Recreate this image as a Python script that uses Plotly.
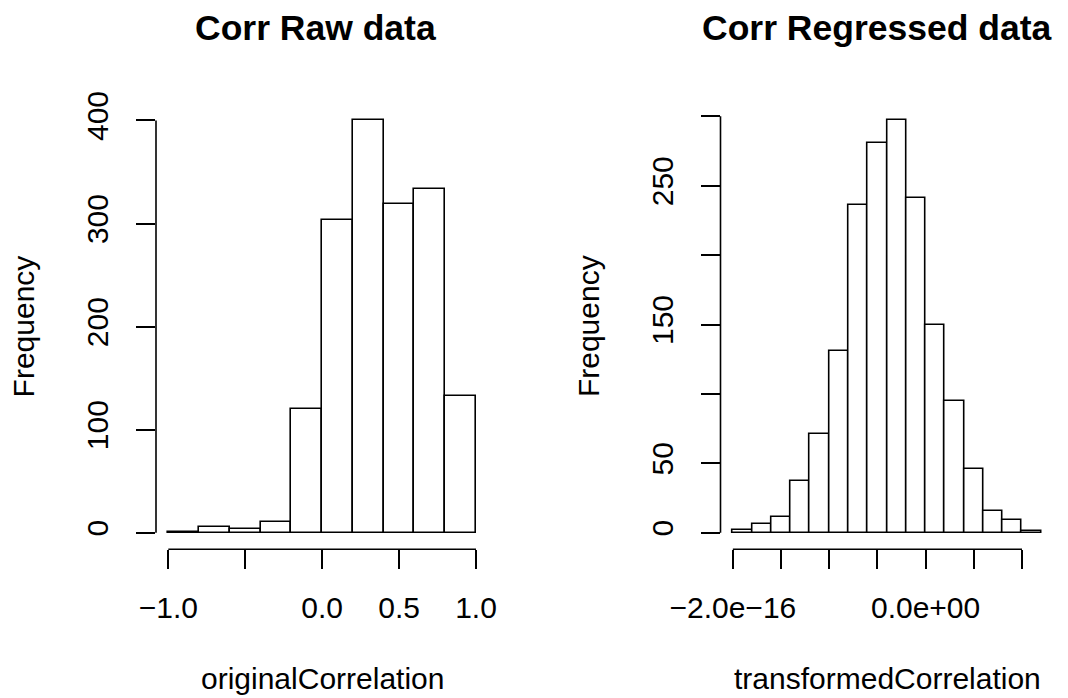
import plotly.graph_objects as go

# ---------------- data ----------------
raw_breaks = [-1.0, -0.8, -0.6, -0.4, -0.2, 0.0, 0.2, 0.4, 0.6, 0.8, 1.0]
raw_counts = [1, 6, 4, 10, 120, 303, 400, 319, 334, 133]

reg_breaks = [-2.0e-16, -1.8e-16, -1.6e-16, -1.4e-16, -1.2e-16, -1.0e-16, -0.8e-16,
              -0.6e-16, -0.4e-16, -0.2e-16, 0.0, 0.2e-16, 0.4e-16, 0.6e-16,
              0.8e-16, 1.0e-16, 1.2e-16]
reg_counts = [2, 6, 11, 37, 71, 131, 236, 281, 297, 241, 150, 95, 46, 16, 9, 1]

raw_xticks = [-1.0, -0.5, 0.0, 0.5, 1.0]
raw_xticktext = ["\u22121.0", "", "0.0", "0.5", "1.0"]
raw_yticks = [0, 100, 200, 300, 400]
raw_yticktext = ["0", "100", "200", "300", "400"]

reg_xticks = [-2.0e-16, -1.5e-16, -1.0e-16, -0.5e-16, 0.0, 0.5e-16, 1.0e-16]
reg_xticktext = ["\u22122.0e\u221216", "", "", "", "0.0e+00", "", ""]
reg_yticks = [0, 50, 100, 150, 200, 250, 300]
reg_yticktext = ["0", "50", "", "150", "", "250", ""]

titles = ["Corr Raw data", "Corr Regressed data"]
xlabels = ["originalCorrelation", "transformedCorrelation"]
ylabel = "Frequency"

# ---------------- styling ----------------
PAGE_W, PAGE_H = 1068, 698
OFF = 8  # default page body margin
W, H = PAGE_W - OFF, PAGE_H - OFF
FONT = "Liberation Sans, Arial, Helvetica, sans-serif"
FS = 30
LW = 1.6


def px_x(p):
    return (p - OFF) / W


def px_y(p):
    return 1 - (p - OFF) / H


fig = go.Figure()


def add_hist(breaks, counts, xa, ya):
    centers = [(breaks[i] + breaks[i + 1]) / 2 for i in range(len(counts))]
    widths = [breaks[i + 1] - breaks[i] for i in range(len(counts))]
    fig.add_trace(go.Bar(
        x=centers, y=counts, width=widths,
        marker=dict(color="white", line=dict(color="black", width=LW)),
        xaxis=xa, yaxis=ya, showlegend=False, hoverinfo="x+y",
    ))


add_hist(raw_breaks, raw_counts, "x", "y")
add_hist(reg_breaks, reg_counts, "x2", "y2")


def ext(lo, hi):
    d = (hi - lo) * 0.04
    return [lo - d, hi + d]


y_bottom, y_top = 549.2, 104.0
ydom = [px_y(y_bottom), px_y(y_top)]

xdom1 = [px_x(156.0), px_x(488.3)]
xdom2 = [px_x(720.5), px_x(1053.6)]

axis_common = dict(
    showgrid=False, zeroline=False, showline=False, automargin=False,
    ticks="outside", ticklen=19, tickwidth=LW, tickcolor="black",
    tickfont=dict(family=FONT, size=FS, color="black"),
    tickmode="array", fixedrange=True,
)

fig.update_layout(
    xaxis=dict(domain=xdom1, range=ext(raw_breaks[0], raw_breaks[-1]),
               tickvals=raw_xticks, ticktext=raw_xticktext, anchor="y",
               ticklabelstandoff=13, **axis_common),
    yaxis=dict(domain=ydom, range=ext(0, max(raw_counts)),
               tickvals=raw_yticks, ticktext=raw_yticktext, anchor="x",
               tickangle=-90, ticklabelstandoff=16, **axis_common),
    xaxis2=dict(domain=xdom2, range=ext(reg_breaks[0], reg_breaks[-1]),
                tickvals=reg_xticks, ticktext=reg_xticktext, anchor="y2",
                ticklabelstandoff=13, **axis_common),
    yaxis2=dict(domain=ydom, range=ext(0, max(reg_counts)),
                tickvals=reg_yticks, ticktext=reg_yticktext, anchor="x2",
                tickangle=-90, ticklabelstandoff=16, **axis_common),
)

# R-style axis lines spanning only first..last tick
shapes = []
for xr, yr, xt, yt in [("x", "y", raw_xticks, raw_yticks), ("x2", "y2", reg_xticks, reg_yticks)]:
    shapes.append(dict(type="line", xref=xr, yref=yr + " domain",
                       x0=xt[0], x1=xt[-1], y0=0, y1=0,
                       line=dict(color="black", width=LW)))
    shapes.append(dict(type="line", xref=xr + " domain", yref=yr,
                       x0=0, x1=0, y0=yt[0], y1=yt[-1],
                       line=dict(color="black", width=LW)))

annotations = []
for cx, t in zip([315, 876], titles):
    annotations.append(dict(text="<b>%s</b>" % t, x=px_x(cx), y=px_y(28.3),
                            xref="paper", yref="paper", showarrow=False,
                            xanchor="center", yanchor="middle",
                            font=dict(family=FONT, size=35.5, color="black")))
for cx, t in zip([322, 887.5], xlabels):
    annotations.append(dict(text=t, x=px_x(cx), y=px_y(678),
                            xref="paper", yref="paper", showarrow=False,
                            xanchor="center", yanchor="middle",
                            font=dict(family=FONT, size=FS, color="black")))
for cx in [23.8, 588.5]:
    annotations.append(dict(text=ylabel, x=px_x(cx), y=px_y(326.6),
                            xref="paper", yref="paper", showarrow=False,
                            xanchor="center", yanchor="middle", textangle=-90,
                            borderpad=0,
                            font=dict(family=FONT, size=FS, color="black")))

fig.update_layout(
    width=W, height=H, autosize=False,
    margin=dict(l=0, r=0, t=0, b=0, autoexpand=False),
    paper_bgcolor="white", plot_bgcolor="white",
    bargap=0, showlegend=False,
    shapes=shapes, annotations=annotations,
    font=dict(family=FONT, size=FS, color="black"),
)

fig.write_html("out.html")
